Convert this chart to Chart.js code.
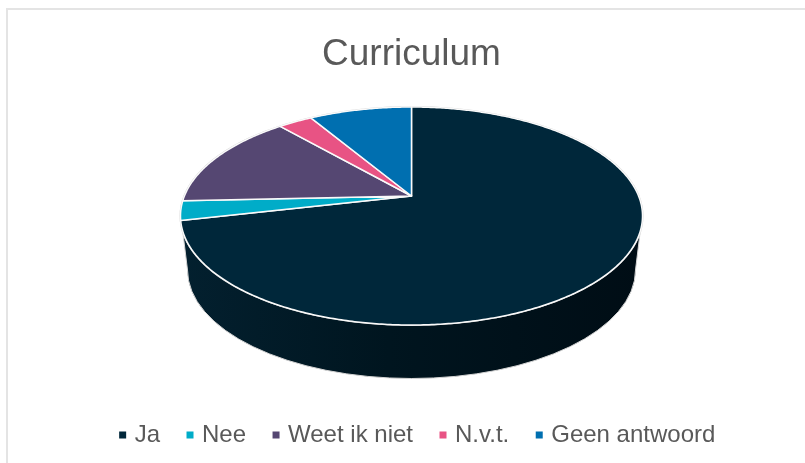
<!DOCTYPE html>
<html>
<head>
<meta charset="utf-8">
<script src="https://cdn.jsdelivr.net/npm/chart.js@4"></script>
<style>
html,body{margin:0;padding:0;background:#fff;overflow:hidden}
#wrap{position:relative;width:805px;height:463px}
canvas{display:block}
</style>
</head>
<body>
<div id="wrap"><canvas id="c" width="805" height="463"></canvas></div>
<script>
const categories = ['Ja', 'Nee', 'Weet ik niet', 'N.v.t.', 'Geen antwoord'];
const seriesValues = [25, 1, 5, 1, 3];
const sliceColors = ['#00273a', '#00acc8', '#554772', '#e85384', '#006fb0'];
const chartTitle = 'Curriculum';

// view of the tilted disc
const disc = { rx: 231, ry: 109, cy: 216, vertexY: 196 };
const floor = { rx: 224, ry: 108.5, cy: 270 };

function project(a, cx) {
  const c = (disc.vertexY - disc.cy) / disc.ry;
  const s = Math.sqrt(1 - c * c);
  const u = Math.cos(a), v = Math.sin(a);
  const k = 1 + c * v;
  return [cx + disc.rx * u * s / k, disc.cy + disc.ry * (v + c) / k];
}

const pie3d = {
  id: 'pie3d',
  afterLayout(chart) {
    const lg = chart.legend;
    lg.left += 7.5; lg.right += 7.5;
    lg.top -= 6; lg.bottom -= 6;
  },
  beforeDraw(chart) {
    const ctx = chart.ctx;
    ctx.save();
    ctx.fillStyle = '#e4e4e4';
    ctx.fillRect(6, 8, 799, 2);
    ctx.fillRect(6, 8, 2, 455);
    ctx.restore();
  },
  beforeDatasetDraw(chart, args) {
    const ctx = chart.ctx;
    const arcs = args.meta.data;
    const cx = arcs[0].x;
    ctx.save();
    // side wall
    const grad = ctx.createLinearGradient(cx - disc.rx, 0, cx + disc.rx, 0);
    grad.addColorStop(0, '#03202f');
    grad.addColorStop(0.45, '#00151f');
    grad.addColorStop(1, '#000d15');
    const sinL = 0.137;
    ctx.beginPath();
    ctx.moveTo(cx - disc.rx * Math.sqrt(1 - sinL * sinL), disc.cy + disc.ry * sinL);
    ctx.ellipse(cx, floor.cy, floor.rx, floor.ry, 0, Math.PI, 0, true);
    ctx.lineTo(cx + disc.rx * Math.sqrt(1 - sinL * sinL), disc.cy + disc.ry * sinL);
    ctx.closePath();
    ctx.fillStyle = grad;
    ctx.fill();
    ctx.strokeStyle = '#d4d4d4';
    ctx.lineWidth = 1;
    ctx.stroke();
    // rim halo
    ctx.beginPath();
    ctx.ellipse(cx, disc.cy, disc.rx, disc.ry, 0, 0, Math.PI * 2);
    ctx.strokeStyle = '#d0d0d0';
    ctx.lineWidth = 2;
    ctx.stroke();
    // top face, from the angles the library computed
    arcs.forEach((arc) => {
      const start = arc.startAngle, end = arc.endAngle;
      const n = Math.max(2, Math.ceil((end - start) / 0.01));
      ctx.beginPath();
      ctx.moveTo(cx, disc.vertexY);
      for (let i = 0; i <= n; i++) {
        const p = project(start + (end - start) * i / n, cx);
        ctx.lineTo(p[0], p[1]);
      }
      ctx.closePath();
      ctx.fillStyle = arc.options.backgroundColor;
      ctx.fill();
      ctx.strokeStyle = '#fafafa';
      ctx.lineWidth = 1.5;
      ctx.lineJoin = 'round';
      ctx.stroke();
    });
    ctx.restore();
    return false;
  }
};

new Chart(document.getElementById('c'), {
  type: 'pie',
  data: {
    labels: categories,
    datasets: [{ data: seriesValues, backgroundColor: sliceColors, borderWidth: 0 }]
  },
  options: {
    responsive: false,
    animation: false,
    events: [],
    layout: { padding: { left: 18, right: 0, top: 0, bottom: 0 } },
    plugins: {
      tooltip: { enabled: false },
      title: {
        display: true,
        text: chartTitle,
        color: '#595959',
        font: { family: '"Liberation Sans", Arial, sans-serif', size: 37, weight: 'normal', lineHeight: 1 },
        padding: { top: 36, bottom: 10 }
      },
      legend: {
        display: true,
        position: 'bottom',
        labels: {
          usePointStyle: true,
          pointStyle: 'rect',
          boxWidth: 0.01,
          boxHeight: 7,
          padding: 30,
          color: '#595959',
          font: { family: '"Liberation Sans", Arial, sans-serif', size: 24 }
        }
      }
    }
  },
  plugins: [pie3d]
});
</script>
</body>
</html>
